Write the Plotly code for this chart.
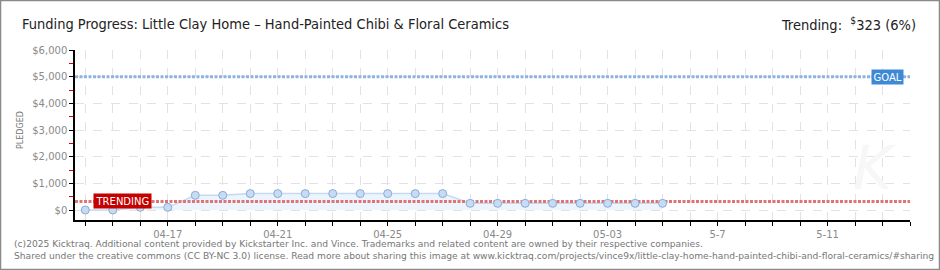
import plotly.graph_objects as go

# ---- data ----
dates = ["2025-04-14", "2025-04-15", "2025-04-16", "2025-04-17", "2025-04-18",
         "2025-04-19", "2025-04-20", "2025-04-21", "2025-04-22", "2025-04-23",
         "2025-04-24", "2025-04-25", "2025-04-26", "2025-04-27", "2025-04-28",
         "2025-04-29", "2025-04-30", "2025-05-01", "2025-05-02", "2025-05-03",
         "2025-05-04", "2025-05-05"]
pledged = [0, 0, 100, 100, 550, 550, 615, 615, 615, 615, 615, 615, 615, 615,
           250, 250, 250, 250, 250, 250, 250, 250]
goal = 5000
trending = 323
trending_pct = 6

x_start = "2025-04-13 15:00"
x_end = "2025-05-14"
tick_dates = ["2025-04-%02d" % d for d in range(14, 31)] + ["2025-05-%02d" % d for d in range(1, 15)]
label_dates = ["2025-04-17", "2025-04-21", "2025-04-25", "2025-04-29", "2025-05-03", "2025-05-07", "2025-05-11"]
label_texts = ["04-17", "04-21", "04-25", "04-29", "05-03", "5-7", "5-11"]
y_ticks = [0, 1000, 2000, 3000, 4000, 5000, 6000]

title = "Funding Progress: Little Clay Home \u2013 Hand-Painted Chibi & Floral Ceramics"
footer1 = ("(c)2025 Kicktraq. Additional content provided by Kickstarter Inc. and Vince. "
           "Trademarks and related content are owned by their respective companies.")
footer2 = ("Shared under the creative commons (CC BY-NC 3.0) license. Read more about sharing this "
           "image at www.kicktraq.com/projects/vince9x/little-clay-home-hand-painted-chibi-and-floral-ceramics/#sharing")

# ---- layout geometry ----
W, H = 940, 270
ML, MR, MT, MB = 75, 30, 50, 50
PW, PH = W - ML - MR, H - MT - MB


def px(x):
    return (x - ML) / PW


def py(y):
    return (H - MB - y) / PH


ticktext = [label_texts[label_dates.index(d)] if d in label_dates else "" for d in tick_dates]

fig = go.Figure()
fig.add_trace(go.Scatter(x=dates, y=pledged, mode="lines", fill="tozeroy",
                         fillcolor="#ecf4fd", line=dict(color="#c5daf1", width=1.5),
                         hoverinfo="skip", showlegend=False))
fig.add_trace(go.Scatter(x=[x_start, x_end], y=[goal, goal], mode="lines",
                         line=dict(color="#8fb3dd", width=3, dash="3px,1.5px"),
                         hoverinfo="skip", showlegend=False))
fig.add_trace(go.Scatter(x=[x_start, x_end], y=[trending, trending], mode="lines",
                         line=dict(color="#e07474", width=3, dash="3px,1.5px"),
                         hoverinfo="skip", showlegend=False))
fig.add_trace(go.Scatter(x=dates, y=pledged, mode="markers",
                         marker=dict(size=8, color="#c4dcf6", line=dict(color="#8eaad0", width=1)),
                         showlegend=False))

tickfont = dict(family="DejaVu Sans", size=10, color="#8a8a8a")
fig.update_xaxes(type="date", range=[x_start, x_end], tickvals=tick_dates, ticktext=ticktext,
                 showgrid=True, gridcolor="#e2e2e2", griddash="dash", gridwidth=1,
                 showline=True, linecolor="#000", linewidth=1.5,
                 ticks="outside", ticklen=4, tickcolor="#000", tickfont=tickfont,
                 zeroline=False, fixedrange=True)
fig.update_yaxes(range=[-375, 6000], tickvals=y_ticks, tickformat="$,.0f",
                 showgrid=True, gridcolor="#e2e2e2", griddash="dash", gridwidth=1,
                 showline=True, linecolor="#000", linewidth=1.5,
                 ticks="outside", ticklen=4, tickcolor="#000", tickfont=tickfont,
                 minor=dict(dtick=500, tick0=500, ticklen=4, tickcolor="#e00000", showgrid=False, ticks="outside"),
                 zeroline=False, fixedrange=True)

cond = "Liberation Sans Narrow, DejaVu Sans Condensed, sans-serif"
annotations = [
    dict(text=title, x=px(20), y=py(24), xref="paper", yref="paper", xanchor="left", yanchor="middle",
         showarrow=False, font=dict(family=cond, size=14.5, color="#222")),
    dict(text="Trending:  <sup>$</sup>%d (%d%%)" % (trending, trending_pct), x=px(918), y=py(24),
         xref="paper", yref="paper", xanchor="right", yanchor="middle", showarrow=False,
         font=dict(family=cond, size=14.5, color="#222")),
    dict(text="PLEDGED", x=px(20), y=py(130), xref="paper", yref="paper", textangle=-90,
         xanchor="center", yanchor="middle", showarrow=False,
         font=dict(family="DejaVu Sans", size=8, color="#777")),
    dict(text="TRENDING", x=px(93), y=trending, xref="paper", yref="y", xanchor="left", yanchor="middle",
         showarrow=False, bgcolor="#c40000", borderpad=1.5,
         font=dict(family="DejaVu Sans", size=10, color="white")),
    dict(text="GOAL", x=px(904), y=goal, xref="paper", yref="y", xanchor="right", yanchor="middle",
         showarrow=False, bgcolor="#3d89d6", borderpad=1.5,
         font=dict(family="DejaVu Sans", size=10, color="white")),
    dict(text="<i>K</i>", x=px(875), y=py(168), xref="paper", yref="paper", xanchor="center", yanchor="middle",
         showarrow=False, font=dict(family="DejaVu Sans", size=60, color="#f7f7f7")),
    dict(text=footer1, x=px(12), y=py(244), xref="paper", yref="paper", xanchor="left", yanchor="middle",
         showarrow=False, font=dict(family="DejaVu Sans", size=9.15, color="#777")),
    dict(text=footer2, x=px(12), y=py(256), xref="paper", yref="paper", xanchor="left", yanchor="middle",
         showarrow=False, font=dict(family="DejaVu Sans", size=9.15, color="#777")),
]

shapes = [dict(type="rect", xref="paper", yref="paper", x0=px(0.5), x1=px(W - 0.5), y0=py(H - 0.5), y1=py(0.5),
               line=dict(color="#8a8a8a", width=1.5), fillcolor="rgba(0,0,0,0)", layer="above")]

fig.update_layout(width=W, height=H, margin=dict(l=ML, r=MR, t=MT, b=MB),
                  paper_bgcolor="white", plot_bgcolor="white",
                  annotations=annotations, shapes=shapes, showlegend=False)

fig.write_html("out.html", config={"displayModeBar": False},
               post_script="document.body.style.margin='0px';document.body.style.overflow='hidden';")
